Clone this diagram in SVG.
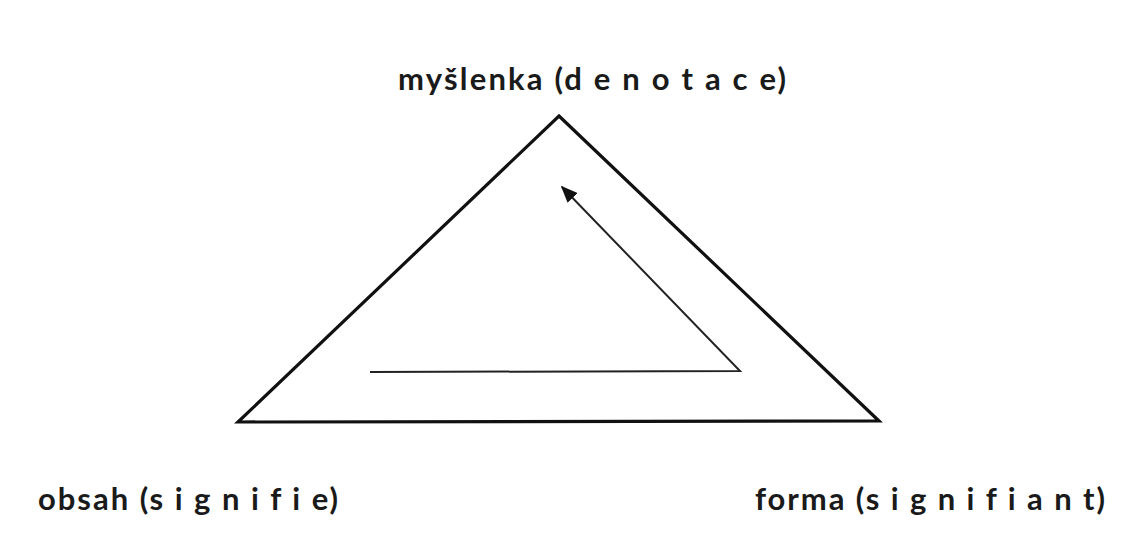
<svg xmlns="http://www.w3.org/2000/svg" width="1134" height="541" viewBox="0 0 1134 541">
<style>
.lbl{font-family:Lato,"Open Sans","Liberation Sans",sans-serif;font-weight:bold;font-size:31px;fill:#1a1a1a}
.tri{fill:none;stroke:#111;stroke-width:3.2;stroke-linejoin:miter}
.path{fill:none;stroke:#222;stroke-width:2}
</style>
<defs>
<marker id="ah" viewBox="0 0 10 10" refX="9" refY="5" markerWidth="17" markerHeight="14" markerUnits="userSpaceOnUse" orient="auto" preserveAspectRatio="none">
<path d="M0,0 L10,5 L0,10 z" fill="#111"/>
</marker>
</defs>
<rect width="1134" height="541" fill="#ffffff"/>
<g id="triangle">
<polygon class="tri" points="559,116 879,421 238,422"/>
</g>
<g id="connectors">
<path class="path" d="M370,372 L740,371 L562,187" marker-end="url(#ah)"/>
</g>
<g id="node-denotace">
<text class="lbl" x="398" y="90" textLength="388" lengthAdjust="spacing">myšlenka (d e n o t a c e)</text>
</g>
<g id="node-signifie">
<text class="lbl" x="38" y="510" textLength="300" lengthAdjust="spacing">obsah (s i g n i f i e)</text>
</g>
<g id="node-signifiant">
<text class="lbl" x="755" y="510" textLength="350" lengthAdjust="spacing">forma (s i g n i f i a n t)</text>
</g>
</svg>
